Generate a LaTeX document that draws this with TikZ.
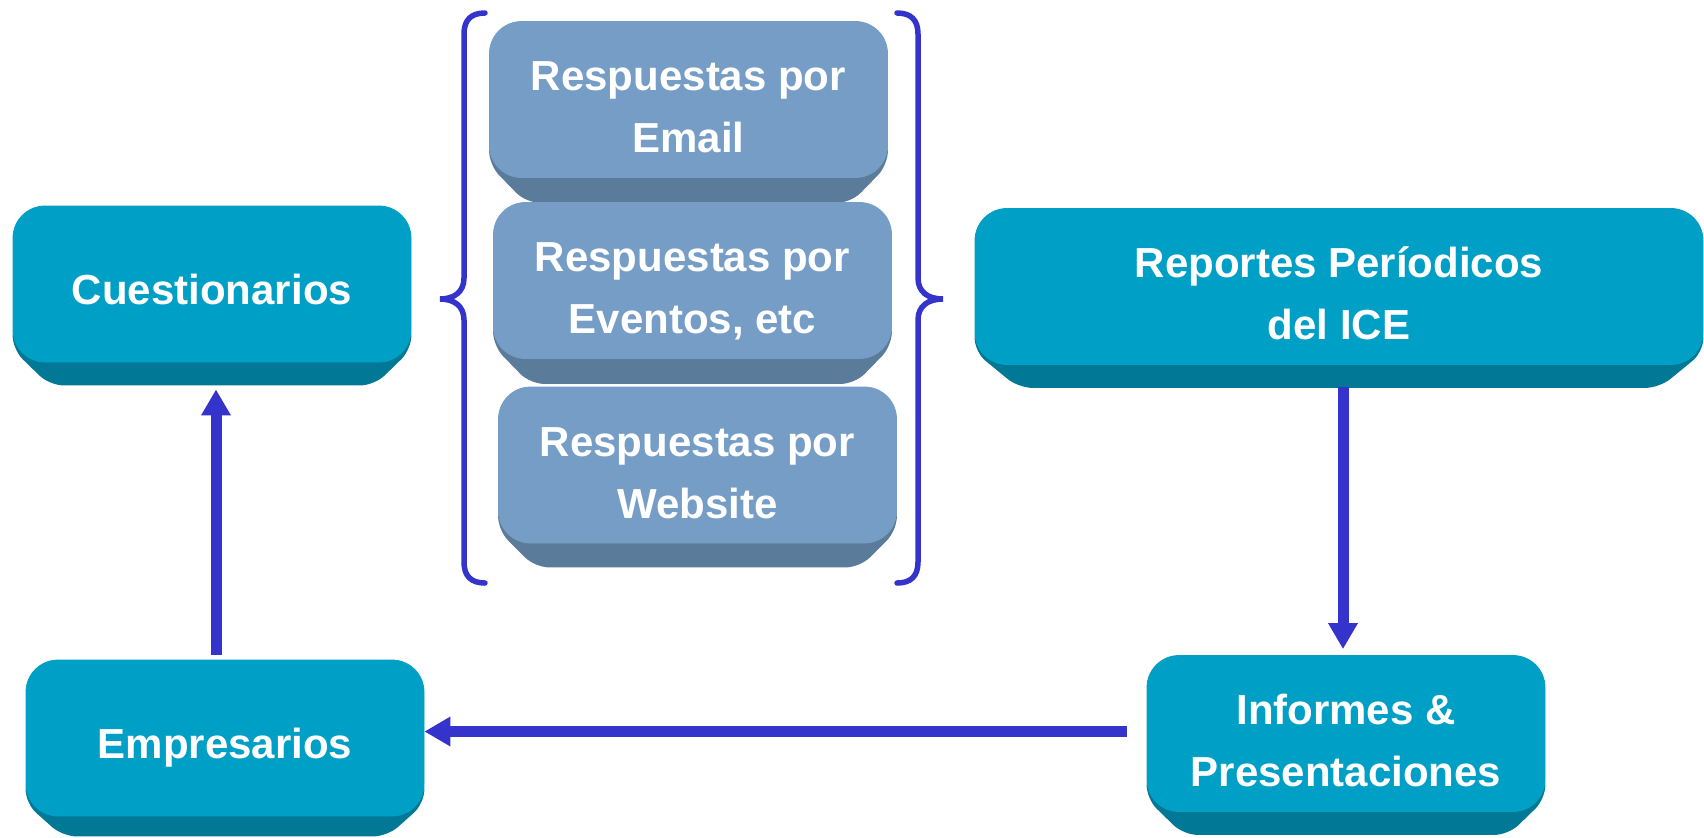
\documentclass[tikz,border=0pt]{standalone}
\usepackage{fontspec}
\setmainfont{Liberation Sans}
\usepackage{tikz}
\usetikzlibrary{
    arrows.meta,
    calc,
    backgrounds,
    positioning
}
\definecolor{tealface}{RGB}{0,159,198}
\definecolor{tealside}{RGB}{0,120,150}
\definecolor{steelface}{RGB}{117,157,197}
\definecolor{steelside}{RGB}{91,123,155}
\definecolor{flowblue}{RGB}{52,52,204}
% dark lower rim under a box: node, inset, depth, colour
\newcommand{\boxbevel}[4]{
    \fill[#4, rounded corners=7pt]
    ($(#1.south west)+(0,-40)$) -- ($(#1.south west)+(0,-13)$)
    -- ($(#1.south west)+(#2,#3)$) -- ($(#1.south east)+(-#2,#3)$)
    -- ($(#1.south east)+(0,-13)$) -- ($(#1.south east)+(0,-40)$) -- cycle;
}

\begin{document}
\begin{tikzpicture}[x=0.5pt, y=-0.5pt,
        box/.style={rounded corners=16pt, inner sep=0pt, align=center, text=white,
            font=\bfseries\fontsize{21}{31}\selectfont,
            execute at begin node={\rule{0pt}{25pt}},
            execute at end node={\rule[-5pt]{0pt}{0pt}},
            minimum width=199pt, minimum height=78pt},
        twolines/.style={execute at begin node={\rule{0pt}{58pt}}},
        tealbox/.style={box, fill=tealface, draw=tealface},
        steelbox/.style={box, fill=steelface, draw=steelface, twolines},
        flow/.style={draw=flowblue, line width=5.5pt, -{Triangle[length=13pt, width=14pt]}},
        brace/.style={draw=flowblue, line width=2.75pt, line cap=round}]
                        \useasboundingbox (0,0) rectangle (1704,837);
                        \node[tealbox] (cues) at (212,284) {Cuestionarios};
                        \node[steelbox] (email) at (688.5,99.5) {Respuestas por\\Email};
                        \node[steelbox] (event) at (692.5,280.5) {Respuestas por\\Eventos, etc};
                        \node[steelbox] (web) at (697.5,465) {Respuestas por\\Website};
                        \node[tealbox, twolines, minimum width=364pt] (rep) at (1339,286.5) {Reportes Períodicos\\del ICE};
                        \node[tealbox, twolines] (inf) at (1346,733.5) {Informes \&\\Presentaciones};
                        \node[tealbox] (emp) at (225,738) {Empresarios};
                        \begin{scope}[on background layer]
                            \boxbevel{cues}{37}{23}{tealside}
                            \boxbevel{email}{37}{25}{steelside}
                            \boxbevel{event}{37}{25}{steelside}
                            \boxbevel{web}{37}{24}{steelside}
                            \boxbevel{rep}{44}{23}{tealside}
                            \boxbevel{inf}{37}{23}{tealside}
                            \boxbevel{emp}{37}{20}{tealside}
                        \end{scope}
                        % braces round the three answer boxes
                        \draw[brace] (485,13) .. controls (471,13) and (464,20) .. (464,34) -- (464,278)
                        .. controls (464,292) and (454,299) .. (440,299)
                        .. controls (454,299) and (464,306) .. (464,320) -- (464,562)
                        .. controls (464,576) and (471,583) .. (485,583);
                        \draw[brace] (897,13) .. controls (911,13) and (918,20) .. (918,34) -- (918,278)
                        .. controls (918,292) and (928,299) .. (943,299)
                        .. controls (928,299) and (918,306) .. (918,320) -- (918,562)
                        .. controls (918,576) and (911,583) .. (897,583);
                        \draw[flow] ($(emp.north)+(-9,-5)$) -- ($(emp.north |- cues.south)+(-9,27)$);
                        \draw[flow] ($(inf.north |- rep.south)+(-3,22)$) -- ($(inf.north)+(-3,-6)$);
                        \draw[flow] ($(inf.west)+(-20,-2)$) coordinate (lt) -- (lt -| emp.east);
                    \end{tikzpicture}
\end{document}
